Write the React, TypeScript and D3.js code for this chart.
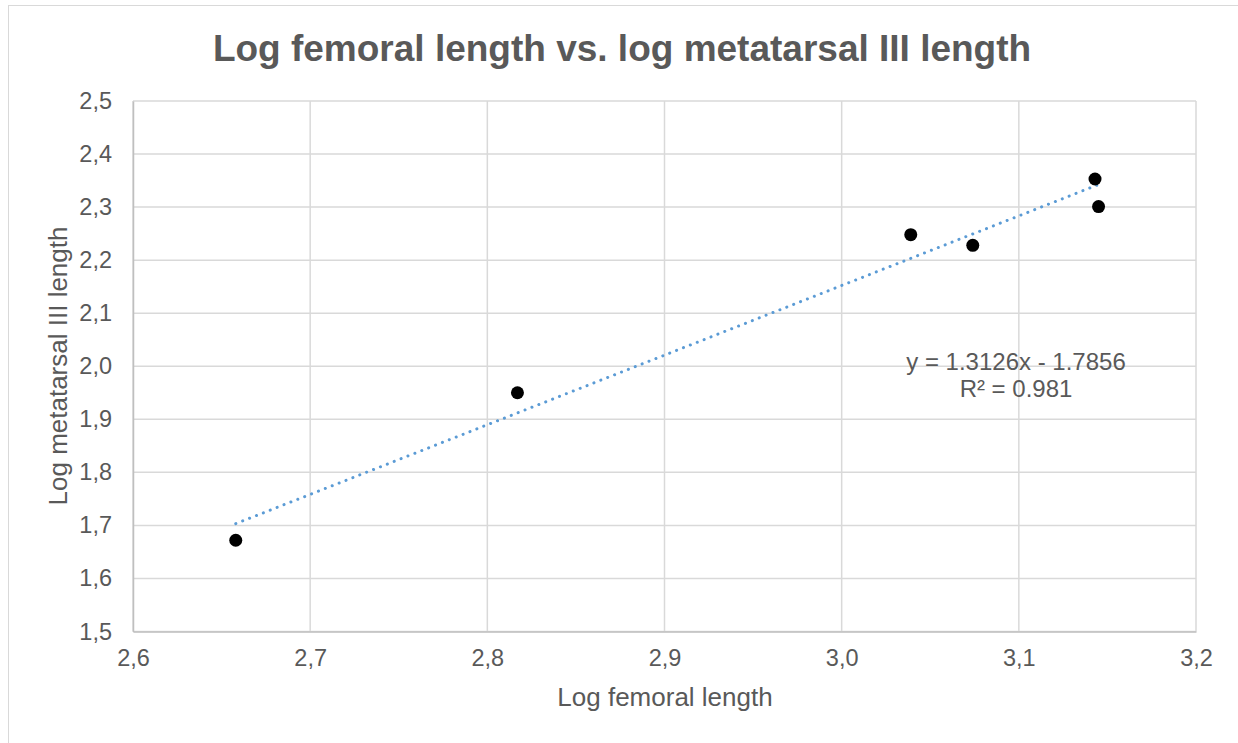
import React, { useEffect, useRef } from "react";
import * as d3 from "d3";

const femoral = [2.658, 2.817, 3.039, 3.074, 3.143, 3.145];
const metatarsal = [1.672, 1.95, 2.248, 2.228, 2.353, 2.301];
const xTicks = [2.6, 2.7, 2.8, 2.9, 3.0, 3.1, 3.2];
const yTicks = [1.5, 1.6, 1.7, 1.8, 1.9, 2.0, 2.1, 2.2, 2.3, 2.4, 2.5];
const slope = 1.3126;
const intercept = -1.7856;
const equationLines = ["y = 1.3126x - 1.7856", "R² = 0.981"];

const width = 1238;
const height = 743;
const font = "'Liberation Sans', Arial, sans-serif";
const textColor = "#595959";

export default function App() {
  const ref = useRef<SVGSVGElement>(null);

  useEffect(() => {
    const svg = d3.select(ref.current);
    svg.selectAll("*").remove();

    const x = d3.scaleLinear().domain([2.6, 3.2]).range([133, 1196]);
    const y = d3.scaleLinear().domain([1.5, 2.5]).range([631.5, 101]);
    const fmt = (d: number) => d3.format(".1f")(d).replace(".", ",");

    svg.append("rect")
      .attr("x", 8.5).attr("y", 5.5)
      .attr("width", width).attr("height", height)
      .attr("fill", "#fff").attr("stroke", "#d9d9d9");

    // gridlines
    const grid = svg.append("g");
    grid.selectAll("line.h")
      .data(yTicks)
      .join("line")
      .attr("class", "h")
      .attr("x1", x(2.6)).attr("x2", x(3.2))
      .attr("y1", (d) => y(d)).attr("y2", (d) => y(d))
      .attr("stroke", "#d9d9d9").attr("stroke-width", 1.5);
    grid.selectAll("line.v")
      .data(xTicks)
      .join("line")
      .attr("class", "v")
      .attr("y1", y(1.5)).attr("y2", y(2.5))
      .attr("x1", (d) => x(d)).attr("x2", (d) => x(d))
      .attr("stroke", "#d9d9d9").attr("stroke-width", 1.5);

    // axes
    const xAxis = svg.append("g")
      .attr("transform", `translate(0,${y(1.5)})`)
      .call(d3.axisBottom(x).tickValues(xTicks).tickFormat(fmt).tickSize(0).tickPadding(18));
    const yAxis = svg.append("g")
      .attr("transform", `translate(${x(2.6)},0)`)
      .call(d3.axisLeft(y).tickValues(yTicks).tickFormat(fmt).tickSize(0).tickPadding(21));
    [xAxis, yAxis].forEach((g) => {
      g.select(".domain").attr("stroke", "#bfbfbf").attr("stroke-width", 1.5);
      g.selectAll("text")
        .attr("font-family", font)
        .attr("font-size", 23.5)
        .attr("fill", textColor);
    });

    // trendline
    const ext = d3.extent(femoral) as [number, number];
    svg.append("line")
      .attr("x1", x(ext[0])).attr("y1", y(slope * ext[0] + intercept))
      .attr("x2", x(ext[1])).attr("y2", y(slope * ext[1] + intercept))
      .attr("stroke", "#5b9bd5")
      .attr("stroke-width", 3)
      .attr("stroke-linecap", "round")
      .attr("stroke-dasharray", "0.1 7.3");

    // points
    svg.append("g")
      .selectAll("circle")
      .data(femoral.map((f, i) => ({ f, m: metatarsal[i] })))
      .join("circle")
      .attr("cx", (d) => x(d.f))
      .attr("cy", (d) => y(d.m))
      .attr("r", 6.5)
      .attr("fill", "#000");

    // equation label
    svg.append("g")
      .selectAll("text")
      .data(equationLines)
      .join("text")
      .attr("x", 1016)
      .attr("y", (d, i) => 370 + i * 27)
      .attr("text-anchor", "middle")
      .attr("font-family", font)
      .attr("font-size", 24)
      .attr("fill", textColor)
      .text((d) => d);

    // titles
    svg.append("text")
      .attr("x", 622).attr("y", 61)
      .attr("text-anchor", "middle")
      .attr("font-family", font)
      .attr("font-size", 37)
      .attr("font-weight", "bold")
      .attr("fill", textColor)
      .text("Log femoral length vs. log metatarsal III length");

    svg.append("text")
      .attr("x", 665).attr("y", 706)
      .attr("text-anchor", "middle")
      .attr("font-family", font)
      .attr("font-size", 26)
      .attr("fill", textColor)
      .text("Log femoral length");

    svg.append("text")
      .attr("transform", `translate(67,366) rotate(-90)`)
      .attr("text-anchor", "middle")
      .attr("font-family", font)
      .attr("font-size", 26)
      .attr("fill", textColor)
      .text("Log metatarsal III length");
  }, []);

  return (
    <svg
      ref={ref}
      width={width}
      height={height}
      style={{ position: "absolute", left: 0, top: 0, background: "#fff" }}
    />
  );
}
